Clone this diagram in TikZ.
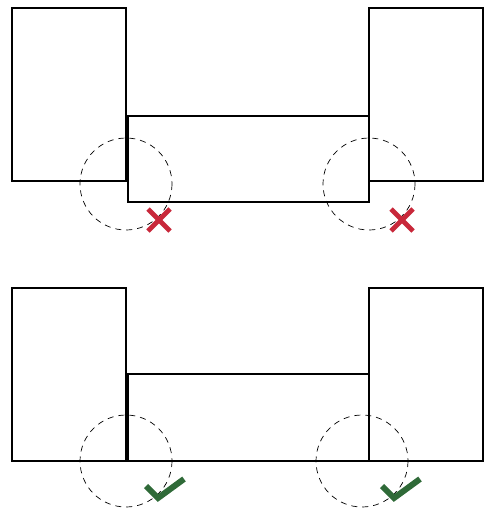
\documentclass[tikz,border=0pt]{standalone}
\usepackage{tikz}
\usetikzlibrary{calc}
\definecolor{wallBlack}{HTML}{000000}
\definecolor{badRed}{HTML}{C8283A}
\definecolor{goodGreen}{HTML}{2F6A38}

\tikzset{
  block/.style={draw=wallBlack, line width=2.5pt, fill=white},
  zone/.style={draw=wallBlack, line width=0.7pt, dash pattern=on 6pt off 5pt},
  crossmark/.style={draw=badRed, line width=4.8pt},
  checkmark/.style={draw=goodGreen, line width=6pt, line join=miter}
}

\begin{document}
\begin{tikzpicture}[x=1pt, y=-1pt]
    \useasboundingbox (0,0) rectangle (488,511);
    % upper panel: middle block sits too low
    \draw[block] (12,8) rectangle (126,181);
    \draw[block] (369,8) rectangle (483,181);
    \draw[block] (128,116) rectangle (369,202);
    \draw[zone] (126,184) circle (46);
    \draw[zone] (369,184) circle (46);
    \foreach \cx in {159, 402}{
      \draw[crossmark] (\cx-11,209) -- (\cx+11,231);
      \draw[crossmark] (\cx-11,231) -- (\cx+11,209);
    }
    % lower panel: bottoms aligned
    \draw[block] (12,288) rectangle (126,461);
    \draw[block] (369,288) rectangle (483,461);
    \draw[block] (128,374) rectangle (369,461);
    \draw[zone] (126,461) circle (46);
    \draw[zone] (362,461) circle (46);
    \foreach \cx in {146, 382}{
      \draw[checkmark] (\cx,486) -- (\cx+12,498) -- (\cx+38,479);
    }
\end{tikzpicture}
\end{document}
